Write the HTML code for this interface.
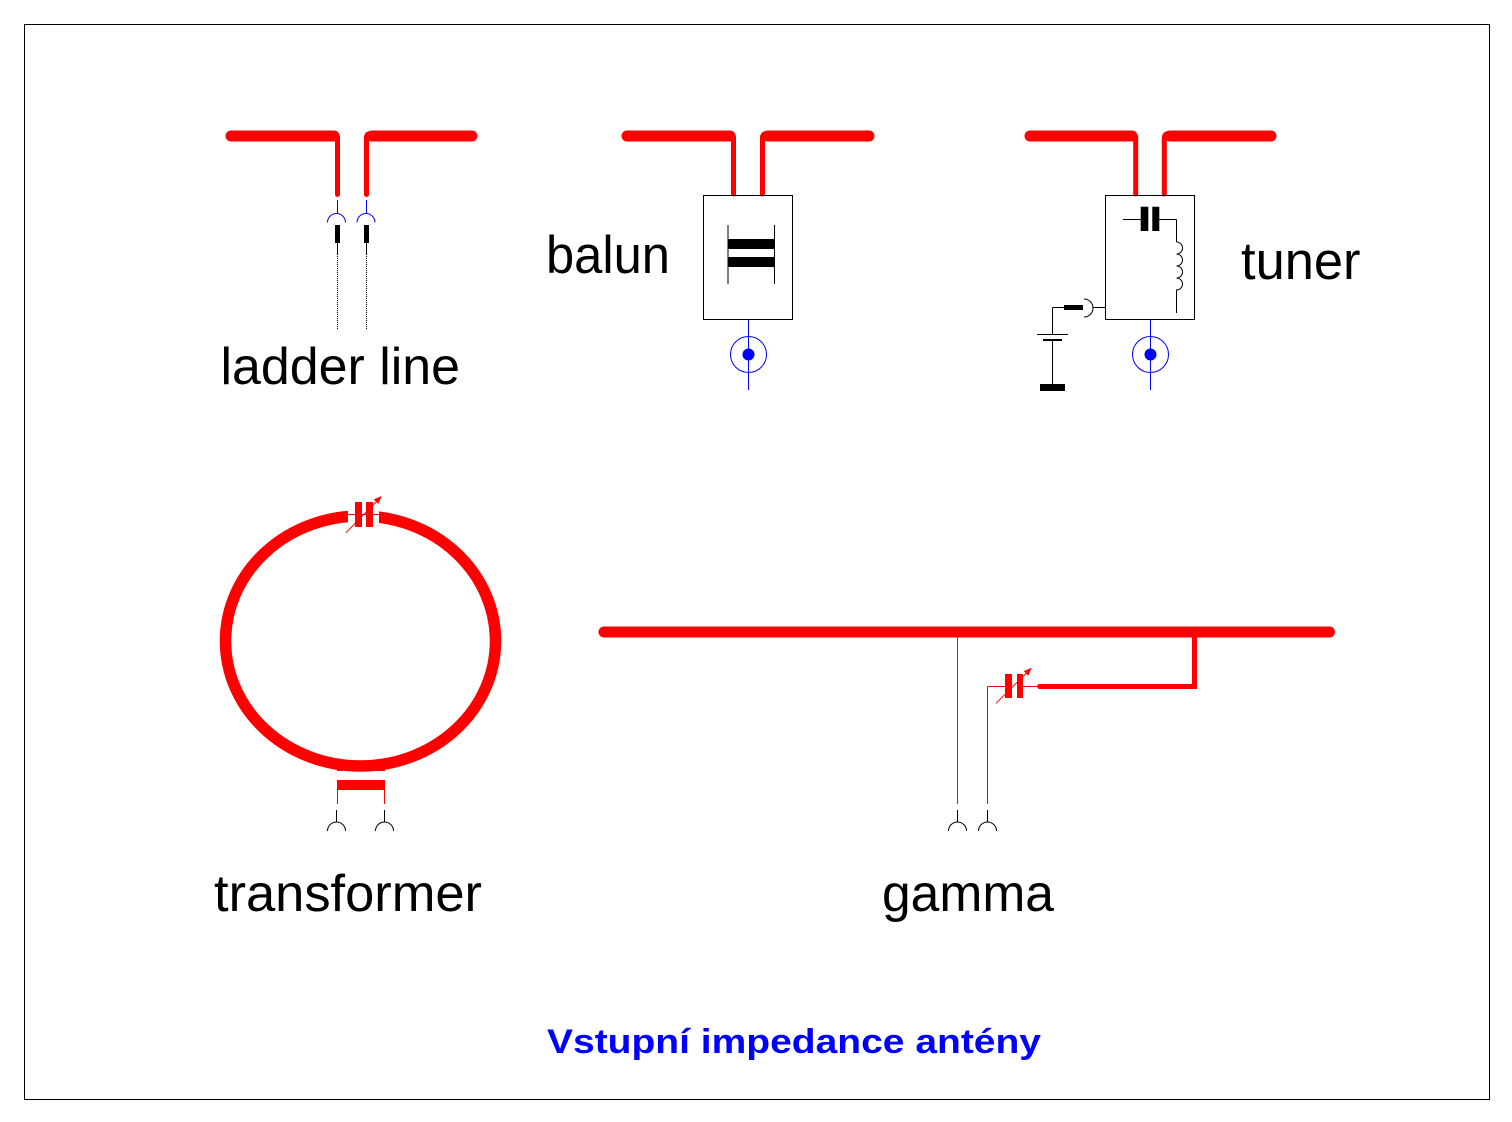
<!DOCTYPE html>
<html>
<head>
<meta charset="utf-8">
<style>
html,body{margin:0;padding:0;background:#fff;}
svg{display:block;}
text{font-family:"Liberation Sans",Arial,sans-serif;}
</style>
</head>
<body>
<svg width="1512" height="1122" viewBox="0 0 1512 1122" xmlns="http://www.w3.org/2000/svg">
<rect x="0" y="0" width="1512" height="1122" fill="#fff"/>
<rect x="24.5" y="24.5" width="1465" height="1075" fill="none" stroke="#000" stroke-width="1"/>

<!-- ===== LADDER LINE ===== -->
<g stroke="#f00" stroke-linecap="round" fill="none">
  <line x1="231" y1="136" x2="334" y2="136" stroke-width="11"/>
  <line x1="337.5" y1="137" x2="337.5" y2="194.5" stroke-width="5"/>
  <line x1="372" y1="136" x2="472" y2="136" stroke-width="11"/>
  <line x1="366.5" y1="137" x2="366.5" y2="194.5" stroke-width="5"/>
  <path d="M333,131 Q340,131 340,138 L335,138 Z" fill="#f00" stroke="none"/>
  <path d="M371,131 Q364,131 364,138 L369,138 Z" fill="#f00" stroke="none"/>
</g>
<g stroke="#00f" stroke-width="1" fill="none">
  <line x1="337.5" y1="200" x2="337.5" y2="213"/>
  <path d="M327.5,222.5 A9,9 0 0 1 345.5,222.5"/>
  <line x1="366.5" y1="200" x2="366.5" y2="213"/>
  <path d="M357,222.5 A9,9 0 0 1 375,222.5"/>
</g>
<rect x="335" y="225" width="5" height="18" fill="#000"/>
<rect x="364" y="225" width="5" height="18" fill="#000"/>
<g stroke="#000" stroke-width="1">
  <line x1="337.5" y1="243" x2="337.5" y2="254"/>
  <line x1="366.5" y1="243" x2="366.5" y2="254"/>
  <line x1="337.5" y1="254" x2="337.5" y2="330" stroke-dasharray="1,1"/>
  <line x1="366.5" y1="254" x2="366.5" y2="330" stroke-dasharray="1,1"/>
</g>
<text x="220.5" y="384" font-size="52" textLength="239.5" lengthAdjust="spacingAndGlyphs" fill="#000">ladder line</text>

<!-- ===== BALUN ===== -->
<g stroke="#f00" stroke-linecap="round" fill="none">
  <line x1="627" y1="136" x2="730" y2="136" stroke-width="11"/>
  <line x1="733.5" y1="137" x2="733.5" y2="194" stroke-width="5"/>
  <line x1="768" y1="136" x2="869" y2="136" stroke-width="11"/>
  <line x1="762.5" y1="137" x2="762.5" y2="194" stroke-width="5"/>
  <path d="M729,131 Q736,131 736,138 L731,138 Z" fill="#f00" stroke="none"/>
  <path d="M767,131 Q760,131 760,138 L765,138 Z" fill="#f00" stroke="none"/>
</g>
<rect x="703.5" y="195.5" width="89" height="124" fill="none" stroke="#000" stroke-width="1"/>
<g stroke="#000" stroke-width="1">
  <line x1="728" y1="225" x2="728" y2="284"/>
  <line x1="774.5" y1="225" x2="774.5" y2="284"/>
</g>
<rect x="728" y="239" width="47" height="10" fill="#000"/>
<rect x="728" y="257" width="47" height="10" fill="#000"/>
<g stroke="#00f" stroke-width="1" fill="none">
  <line x1="748.5" y1="320" x2="748.5" y2="390"/>
  <circle cx="748.5" cy="354.5" r="18"/>
</g>
<circle cx="748.5" cy="354.5" r="6" fill="#00f"/>
<text x="546" y="273" font-size="53" textLength="124" lengthAdjust="spacingAndGlyphs" fill="#000">balun</text>

<!-- ===== TUNER ===== -->
<g stroke="#f00" stroke-linecap="round" fill="none">
  <line x1="1030" y1="136" x2="1132" y2="136" stroke-width="11"/>
  <line x1="1135.7" y1="137" x2="1135.7" y2="194" stroke-width="5"/>
  <line x1="1170" y1="136" x2="1271" y2="136" stroke-width="11"/>
  <line x1="1164.3" y1="137" x2="1164.3" y2="194" stroke-width="5"/>
  <path d="M1131,131 Q1138,131 1138,138 L1133,138 Z" fill="#f00" stroke="none"/>
  <path d="M1169,131 Q1162,131 1162,138 L1167,138 Z" fill="#f00" stroke="none"/>
</g>
<rect x="1105.5" y="195.5" width="89" height="124" fill="none" stroke="#000" stroke-width="1"/>
<g stroke="#000" stroke-width="1" fill="none">
  <line x1="1123" y1="219.5" x2="1141" y2="219.5"/>
  <line x1="1159" y1="219.5" x2="1176.5" y2="219.5"/>
  <line x1="1176.5" y1="219.5" x2="1176.5" y2="242"/>
  <path d="M1176.5,242 a6,6 0 0 1 0,12 a6,6 0 0 1 0,12 a6,6 0 0 1 0,12 a6,6 0 0 1 0,12 L1176.5,313"/>
  <line x1="1093" y1="307.5" x2="1105" y2="307.5"/>
  <path d="M1084,299 A9,9 0 0 1 1084,317"/>
  <line x1="1052.5" y1="307.5" x2="1064" y2="307.5"/>
  <line x1="1052.5" y1="307.5" x2="1052.5" y2="334"/>
  <line x1="1037" y1="334.5" x2="1068" y2="334.5"/>
  <line x1="1052.5" y1="341" x2="1052.5" y2="384"/>
</g>
<rect x="1140.7" y="206.7" width="7.6" height="24.3" fill="#000"/>
<rect x="1152.3" y="206.7" width="7" height="24.3" fill="#000"/>
<rect x="1064" y="305" width="19" height="5" fill="#000"/>
<rect x="1043" y="339" width="19" height="2" fill="#000"/>
<rect x="1040" y="384" width="25" height="7" fill="#000"/>
<g stroke="#00f" stroke-width="1" fill="none">
  <line x1="1150.5" y1="320" x2="1150.5" y2="390"/>
  <circle cx="1150.5" cy="354.5" r="18"/>
</g>
<circle cx="1150.5" cy="354.5" r="6" fill="#00f"/>
<text x="1241" y="279" font-size="53" textLength="119.5" lengthAdjust="spacingAndGlyphs" fill="#000">tuner</text>

<!-- ===== TRANSFORMER (LOOP) ===== -->
<ellipse cx="360.5" cy="641" rx="135" ry="125" fill="none" stroke="#f00" stroke-width="11.5"/>
<rect x="348" y="500" width="31" height="30" fill="#fff"/>
<line x1="348" y1="514.5" x2="379" y2="514.5" stroke="#f00" stroke-width="1"/>
<rect x="355" y="502" width="7" height="25" fill="#f00"/>
<rect x="366" y="502" width="7" height="25" fill="#f00"/>
<line x1="346" y1="532.7" x2="378" y2="500" stroke="#f00" stroke-width="1"/>
<polygon points="381.7,496 378.3,504 373.7,499.4" fill="#f00"/>
<rect x="337" y="761" width="48" height="10" fill="#f00"/>
<rect x="337" y="780" width="48" height="10" fill="#f00"/>
<g stroke="#f00" stroke-width="1">
  <line x1="337.5" y1="790" x2="337.5" y2="804"/>
  <line x1="384.5" y1="790" x2="384.5" y2="804"/>
</g>
<g stroke="#000" stroke-width="1" fill="none">
  <line x1="336.5" y1="810" x2="336.5" y2="822"/>
  <path d="M327.5,831 A9,9 0 0 1 345.5,831"/>
  <line x1="384.5" y1="810" x2="384.5" y2="822"/>
  <path d="M375.5,831 A9,9 0 0 1 393.5,831"/>
</g>
<text x="214" y="911" font-size="52" textLength="268" lengthAdjust="spacingAndGlyphs" fill="#000">transformer</text>

<!-- ===== GAMMA ===== -->
<line x1="604" y1="632" x2="1329.5" y2="632" stroke="#f00" stroke-width="11" stroke-linecap="round"/>
<rect x="1192" y="632" width="5" height="57" fill="#f00"/>
<rect x="1039" y="684" width="158" height="5" fill="#f00"/>
<circle cx="1039.5" cy="686.5" r="2.5" fill="#f00"/>
<g stroke="#f00" stroke-width="1" fill="none">
  <line x1="1022" y1="686.5" x2="1038" y2="686.5"/>
  <line x1="987.5" y1="686.5" x2="1005" y2="686.5"/>
  <line x1="987.5" y1="686.5" x2="987.5" y2="804"/>
  <line x1="957.5" y1="637" x2="957.5" y2="804"/>
  <line x1="996" y1="703.3" x2="1028" y2="671.5"/>
</g>
<rect x="1005" y="674" width="7" height="24" fill="#f00"/>
<rect x="1017" y="674" width="6" height="24" fill="#f00"/>
<polygon points="1031.7,667.7 1028.3,675.7 1023.7,671.1" fill="#f00"/>
<g stroke="#000" stroke-width="1" fill="none">
  <line x1="957.5" y1="810" x2="957.5" y2="822"/>
  <path d="M948.5,831 A9,9 0 0 1 966.5,831"/>
  <line x1="987.5" y1="810" x2="987.5" y2="822"/>
  <path d="M978.5,831 A9,9 0 0 1 996.5,831"/>
</g>
<text x="882" y="911" font-size="52" textLength="172" lengthAdjust="spacingAndGlyphs" fill="#000">gamma</text>

<!-- ===== TITLE ===== -->
<text x="547" y="1053" font-size="34" font-weight="bold" textLength="494" lengthAdjust="spacingAndGlyphs" fill="#00f">Vstupní impedance antény</text>
</svg>
</body>
</html>
